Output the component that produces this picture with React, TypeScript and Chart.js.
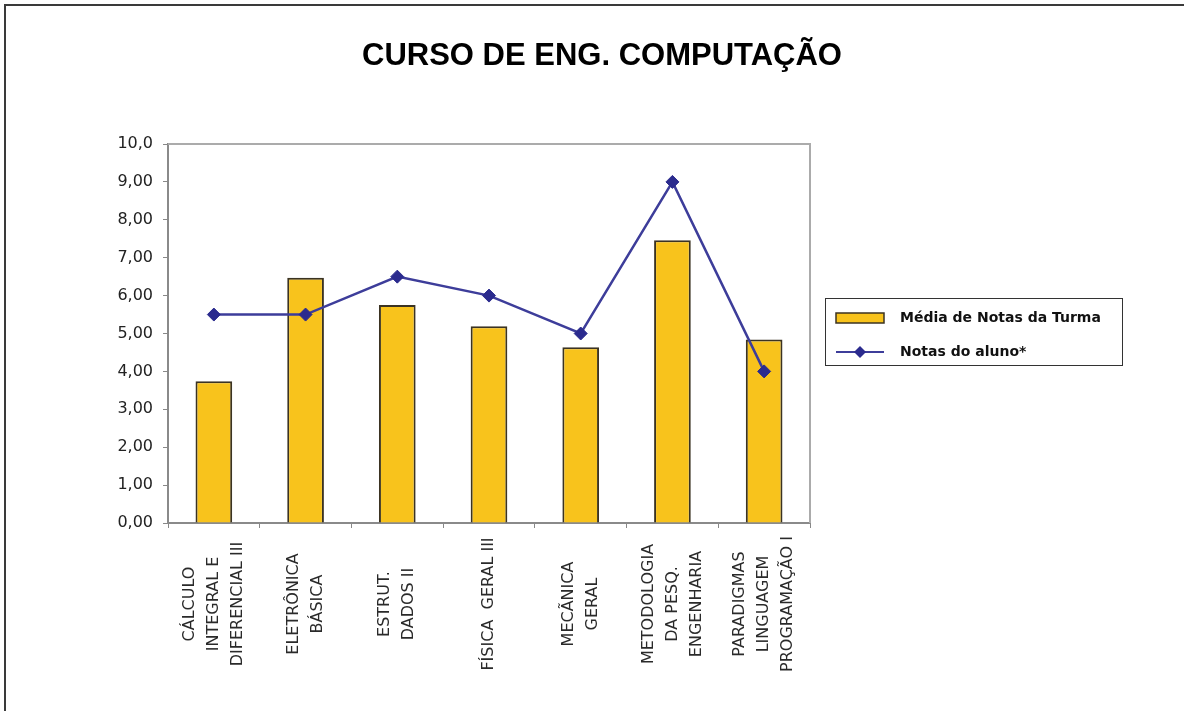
import React, { useEffect, useRef } from 'react';
import { Chart, registerables } from 'chart.js';

Chart.register(...registerables);

const chartTitle = 'CURSO DE ENG. COMPUTAÇÃO';

const categories: string[][] = [
  ['CÁLCULO', 'INTEGRAL E', 'DIFERENCIAL III'],
  ['ELETRÔNICA', 'BÁSICA'],
  ['ESTRUT.', 'DADOS II'],
  ['FÍSICA  GERAL III'],
  ['MECÃNICA', 'GERAL'],
  ['METODOLOGIA', 'DA PESQ.', 'ENGENHARIA'],
  ['PARADIGMAS', 'LINGUAGEM', 'PROGRAMAÇÃO I'],
];

const mediaTurma = [3.74, 6.47, 5.75, 5.19, 4.64, 7.46, 4.84];
const notasAluno = [5.5, 5.5, 6.5, 6.0, 5.0, 9.0, 4.0];

const seriesLabels = ['Média de Notas da Turma', 'Notas do aluno*'];

const yTickLabels = ['0,00', '1,00', '2,00', '3,00', '4,00', '5,00', '6,00', '7,00', '8,00', '9,00', '10,0'];

const BAR_FILL = '#F8C31C';
const BAR_BORDER = '#3B3322';
const LINE_COLOR = '#3D3D9A';
const POINT_COLOR = '#2B2B8E';
const TEXT_FONT = '"DejaVu Sans", sans-serif';

function drawDiamond(ctx: CanvasRenderingContext2D, x: number, y: number, r: number) {
  ctx.beginPath();
  ctx.moveTo(x, y - r);
  ctx.lineTo(x + r, y);
  ctx.lineTo(x, y + r);
  ctx.lineTo(x - r, y);
  ctx.closePath();
  ctx.fill();
}

const decorPlugin = {
  id: 'decor',
  beforeDraw(chart: any) {
    const ctx: CanvasRenderingContext2D = chart.ctx;
    ctx.save();
    ctx.fillStyle = '#ffffff';
    ctx.fillRect(0, 0, chart.width, chart.height);
    ctx.strokeStyle = '#3a3a3a';
    ctx.lineWidth = 2;
    ctx.beginPath();
    ctx.moveTo(5, chart.height);
    ctx.lineTo(5, 5);
    ctx.lineTo(chart.width, 5);
    ctx.stroke();
    ctx.restore();
  },
  beforeDatasetsDraw(chart: any) {
    const ctx: CanvasRenderingContext2D = chart.ctx;
    const { left, right, top, bottom } = chart.chartArea;
    ctx.save();
    ctx.strokeStyle = '#ababab';
    ctx.lineWidth = 2;
    ctx.beginPath();
    ctx.moveTo(left, top);
    ctx.lineTo(right, top);
    ctx.lineTo(right, bottom);
    ctx.stroke();
    ctx.restore();
  },
  afterDraw(chart: any) {
    const ctx: CanvasRenderingContext2D = chart.ctx;
    const area = chart.chartArea;
    const xScale = chart.scales.x;
    ctx.save();

    ctx.fillStyle = '#000000';
    ctx.font = 'bold 31px "Liberation Sans", sans-serif';
    ctx.textAlign = 'center';
    ctx.textBaseline = 'middle';
    ctx.fillText(chartTitle, 602, 56);

    ctx.font = '16px ' + TEXT_FONT;
    ctx.fillStyle = '#2a2a2a';
    const labels: string[][] = chart.data.labels;
    const cy = area.bottom + 81;
    const lineGap = 24;
    labels.forEach((lines, i) => {
      const x = xScale.getPixelForValue(i);
      ctx.save();
      ctx.translate(x, cy);
      ctx.rotate(-Math.PI / 2);
      ctx.textAlign = 'center';
      ctx.textBaseline = 'middle';
      const n = lines.length;
      lines.forEach((ln, j) => {
        ctx.fillText(ln, 0, (j - (n - 1) / 2) * lineGap);
      });
      ctx.restore();
    });

    const bx = area.right + 15;
    const by = 298;
    const bw = 297;
    const bh = 67;
    ctx.strokeStyle = '#333333';
    ctx.lineWidth = 1;
    ctx.strokeRect(bx + 0.5, by + 0.5, bw, bh);

    const sx = bx + 11;
    ctx.fillStyle = BAR_FILL;
    ctx.fillRect(sx, 313, 48, 10);
    ctx.strokeStyle = BAR_BORDER;
    ctx.lineWidth = 1.5;
    ctx.strokeRect(sx, 313, 48, 10);

    ctx.strokeStyle = LINE_COLOR;
    ctx.lineWidth = 2;
    ctx.beginPath();
    ctx.moveTo(sx, 352);
    ctx.lineTo(sx + 48, 352);
    ctx.stroke();
    ctx.fillStyle = POINT_COLOR;
    drawDiamond(ctx, sx + 24, 352, 6);

    ctx.fillStyle = '#111111';
    ctx.font = 'bold 14px ' + TEXT_FONT;
    ctx.textAlign = 'left';
    ctx.textBaseline = 'middle';
    ctx.fillText(chart.data.datasets[1].label, sx + 64, 318);
    ctx.fillText(chart.data.datasets[0].label, sx + 64, 352);

    ctx.restore();
  },
};

export default function App() {
  const canvasRef = useRef<HTMLCanvasElement | null>(null);

  useEffect(() => {
    if (!canvasRef.current) return;
    const chart = new Chart(canvasRef.current, {
      type: 'bar',
      data: {
        labels: categories as any,
        datasets: [
          {
            type: 'line' as const,
            label: seriesLabels[1],
            data: notasAluno,
            borderColor: LINE_COLOR,
            borderWidth: 2.5,
            pointStyle: 'rectRot',
            pointRadius: 6.5,
            pointBackgroundColor: POINT_COLOR,
            pointBorderColor: POINT_COLOR,
            pointBorderWidth: 1,
            tension: 0,
            fill: false,
            order: 0,
          },
          {
            type: 'bar' as const,
            label: seriesLabels[0],
            data: mediaTurma,
            backgroundColor: BAR_FILL,
            borderColor: BAR_BORDER,
            borderWidth: 2,
            barPercentage: 0.4,
            categoryPercentage: 1.0,
            order: 1,
          },
        ] as any,
      },
      options: {
        animation: false,
        responsive: false,
        maintainAspectRatio: false,
        layout: { padding: { left: 0, top: 144, right: 374, bottom: 0 } },
        plugins: {
          legend: { display: false },
          title: { display: false },
          tooltip: { enabled: false },
        },
        scales: {
          x: {
            type: 'category',
            offset: true,
            grid: { offset: true, drawOnChartArea: false, drawTicks: true, tickLength: 5, color: '#888888' },
            border: { display: true, color: '#8a8a8a', width: 2 },
            ticks: { display: false },
            afterFit: (scale: any) => { scale.height = 188; },
          },
          y: {
            min: 0,
            max: 10,
            ticks: {
              stepSize: 1,
              padding: 10,
              color: '#222222',
              font: { family: TEXT_FONT, size: 16 },
              callback: (_v: any, i: number) => yTickLabels[i],
            },
            grid: { drawOnChartArea: false, drawTicks: true, tickLength: 5, color: '#888888' },
            border: { display: true, color: '#8a8a8a', width: 2 },
            afterFit: (scale: any) => { scale.width = 168; },
          },
        },
      } as any,
      plugins: [decorPlugin],
    });
    return () => chart.destroy();
  }, []);

  return (
    <div style={{ position: 'absolute', left: 0, top: 0, width: 1184, height: 711, background: '#fff' }}>
      <canvas ref={canvasRef} width={1184} height={711} style={{ display: 'block' }} />
    </div>
  );
}
